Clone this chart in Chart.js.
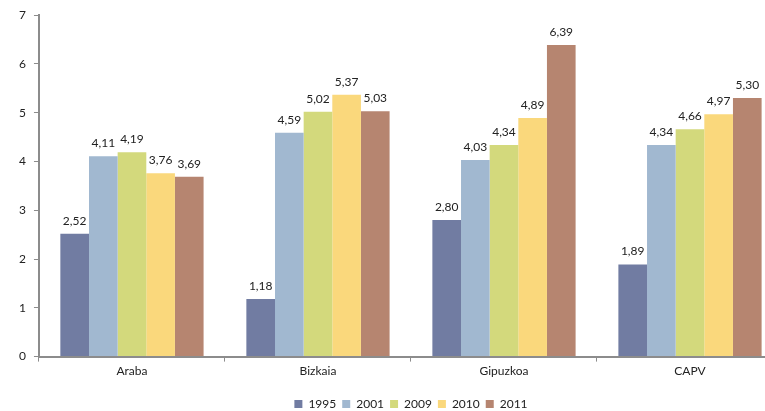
<!DOCTYPE html>
<html>
<head>
<meta charset="utf-8">
<script src="https://cdn.jsdelivr.net/npm/chart.js@4"></script>
<style>
  html, body { margin: 0; padding: 0; background: #fff; overflow: hidden; }
  #wrap { width: 800px; height: 420px; }
</style>
</head>
<body>
<div id="wrap"><canvas id="chart" width="800" height="420"></canvas></div>
<script>
const regions = ['Araba', 'Bizkaia', 'Gipuzkoa', 'CAPV'];
const years = ['1995', '2001', '2009', '2010', '2011'];
const v1995 = [2.52, 1.18, 2.80, 1.89];
const v2001 = [4.11, 4.59, 4.03, 4.34];
const v2009 = [4.19, 5.02, 4.34, 4.66];
const v2010 = [3.76, 5.37, 4.89, 4.97];
const v2011 = [3.69, 5.03, 6.39, 5.30];
const colors = ['#717CA2', '#A1B8D0', '#D3D97C', '#FAD87C', '#B68570'];

const series = [v1995, v2001, v2009, v2010, v2011];

// value labels above each bar, with comma decimals
const valueLabels = {
  id: 'valueLabels',
  afterDatasetsDraw(chart) {
    const ctx = chart.ctx;
    ctx.save();
    ctx.font = '12px Lato, sans-serif';
    ctx.fillStyle = '#222';
    ctx.textAlign = 'center';
    ctx.textBaseline = 'bottom';
    chart.data.datasets.forEach((ds, i) => {
      chart.getDatasetMeta(i).data.forEach((bar, j) => {
        const txt = ds.data[j].toFixed(2).replace('.', ',');
        ctx.fillText(txt, bar.x, bar.y - 7);
      });
    });
    ctx.restore();
  }
};

new Chart(document.getElementById('chart'), {
  type: 'bar',
  data: {
    labels: regions,
    datasets: years.map((y, i) => ({
      label: y,
      data: series[i],
      backgroundColor: colors[i],
      borderWidth: 0,
      categoryPercentage: 0.77,
      barPercentage: 1
    }))
  },
  options: {
    responsive: false,
    animation: false,
    layout: { padding: { left: 11, right: 17, top: 8, bottom: 0 } },
    plugins: {
      tooltip: { enabled: false },
      legend: {
        position: 'bottom',
        fullSize: false,
        labels: {
          boxWidth: 8,
          boxHeight: 8,
          padding: 6,
          color: '#222',
          font: { family: 'Lato', size: 12 }
        }
      }
    },
    scales: {
      x: {
        afterFit(scale) { scale.height += 12; },
        grid: { drawOnChartArea: false, drawTicks: true, tickLength: 5, color: '#8C8C8C' },
        border: { color: '#8C8C8C', width: 2 },
        ticks: { color: '#222', font: { family: 'Lato', size: 12 }, padding: 2 }
      },
      y: {
        min: 0,
        max: 7,
        grid: { drawOnChartArea: false, drawTicks: true, tickLength: 5, color: '#8C8C8C' },
        border: { color: '#8C8C8C', width: 2 },
        ticks: { stepSize: 1, color: '#222', font: { family: 'Lato', size: 12 }, padding: 8 }
      }
    }
  },
  plugins: [valueLabels]
});
</script>
</body>
</html>
